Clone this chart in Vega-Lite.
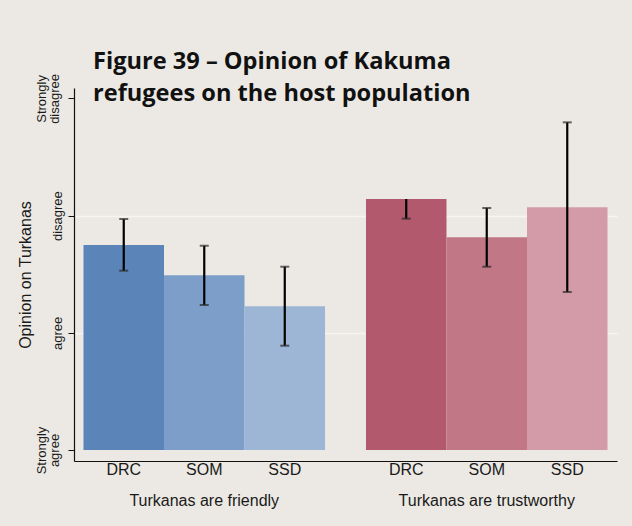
{
  "$schema": "https://vega.github.io/schema/vega-lite/v6.json",
  "width": 543,
  "height": 373,
  "autosize": {"type": "none"},
  "padding": {"left": 74, "top": 88, "right": 15, "bottom": 65},
  "background": "#ece9e4",
  "title": {
    "text": ["Figure 39 – Opinion of Kakuma", "refugees on the host population"],
    "font": "Open Sans",
    "fontSize": 23.6,
    "fontWeight": "bold",
    "color": "#111111",
    "anchor": "start",
    "frame": "group",
    "baseline": "alphabetic",
    "lineHeight": 32,
    "dx": 19,
    "offset": -51
  },
  "config": {
    "view": {"stroke": null},
    "font": "Liberation Sans"
  },
  "data": {
    "values": [
      {"group": "Turkanas are friendly", "country": "DRC", "key": "F-DRC", "value": 2.749, "lo": 2.530, "hi": 2.971, "hicap": 2.971},
      {"group": "Turkanas are friendly", "country": "SOM", "key": "F-SOM", "value": 2.491, "lo": 2.237, "hi": 2.743, "hicap": 2.743},
      {"group": "Turkanas are friendly", "country": "SSD", "key": "F-SSD", "value": 2.226, "lo": 1.890, "hi": 2.564, "hicap": 2.564},
      {"group": "Turkanas are trustworthy", "country": "DRC", "key": "T-DRC", "value": 3.142, "lo": 2.974, "hi": 3.142, "hicap": null},
      {"group": "Turkanas are trustworthy", "country": "SOM", "key": "T-SOM", "value": 2.815, "lo": 2.564, "hi": 3.065, "hicap": 3.065},
      {"group": "Turkanas are trustworthy", "country": "SSD", "key": "T-SSD", "value": 3.071, "lo": 2.348, "hi": 3.796, "hicap": 3.796}
    ]
  },
  "encoding": {
    "x": {
      "field": "group",
      "type": "nominal",
      "scale": {"domain": ["Turkanas are friendly", "Turkanas are trustworthy"], "paddingInner": 0.145, "paddingOuter": 0.0336},
      "axis": {
        "title": null,
        "ticks": false,
        "labelAngle": 0,
        "labelFontSize": 16,
        "labelColor": "#1a1a1a",
        "labelPadding": 31,
        "domainColor": "#111111",
        "domainWidth": 1.2
      }
    },
    "xOffset": {"field": "country", "type": "nominal", "scale": {"domain": ["DRC", "SOM", "SSD"], "paddingInner": 0, "paddingOuter": 0}}
  },
  "layer": [
    {
      "mark": {"type": "bar"},
      "encoding": {
        "y": {
          "field": "value",
          "type": "quantitative",
          "scale": {"domain": [0.906, 4.089], "nice": false, "zero": false},
          "axis": {
            "title": "Opinion on Turkanas",
            "titleFontSize": 16,
            "titleFontWeight": "normal",
            "titleColor": "#1a1a1a",
            "titlePadding": 2,
            "values": [1, 2, 3, 4],
            "labelExpr": "datum.value == 1 ? ['Strongly', 'agree'] : datum.value == 2 ? 'agree' : datum.value == 3 ? 'disagree' : ['Strongly', 'disagree']",
            "labelAngle": 270,
            "labelAlign": "center",
            "labelBaseline": "middle",
            "labelFontSize": 13,
            "labelLineHeight": 13,
            "labelColor": "#1a1a1a",
            "labelPadding": {"condition": {"test": "datum.value == 1 || datum.value == 4", "value": 27}, "value": 11},
            "tickSize": 6,
            "tickColor": "#111111",
            "domainColor": "#111111",
            "domainWidth": 1.2,
            "grid": true,
            "gridColor": "#f7f5f2",
            "gridWidth": 1.5,
            "gridOpacity": {"condition": {"test": "datum.value == 2 || datum.value == 3", "value": 1}, "value": 0}
          }
        },
        "y2": {"datum": 1},
        "color": {
          "field": "key",
          "type": "nominal",
          "scale": {
            "domain": ["F-DRC", "F-SOM", "F-SSD", "T-DRC", "T-SOM", "T-SSD"],
            "range": ["#5b84b9", "#7c9ec9", "#9db6d6", "#b3596e", "#c27787", "#d39aa7"]
          },
          "legend": null
        }
      }
    },
    {
      "mark": {"type": "rule", "color": "#000000", "strokeWidth": 2.2},
      "encoding": {
        "y": {"field": "lo", "type": "quantitative"},
        "y2": {"field": "hi"}
      }
    },
    {
      "mark": {"type": "tick", "color": "#2a2a2a", "size": 9, "thickness": 2},
      "encoding": {"y": {"field": "lo", "type": "quantitative"}}
    },
    {
      "mark": {"type": "tick", "color": "#2a2a2a", "size": 9, "thickness": 2},
      "encoding": {"y": {"field": "hicap", "type": "quantitative"}}
    },
    {
      "mark": {"type": "text", "fontSize": 16, "color": "#1a1a1a", "baseline": "middle", "font": "Liberation Sans"},
      "encoding": {
        "y": {"datum": 0.83},
        "text": {"field": "country"}
      }
    }
  ]
}
